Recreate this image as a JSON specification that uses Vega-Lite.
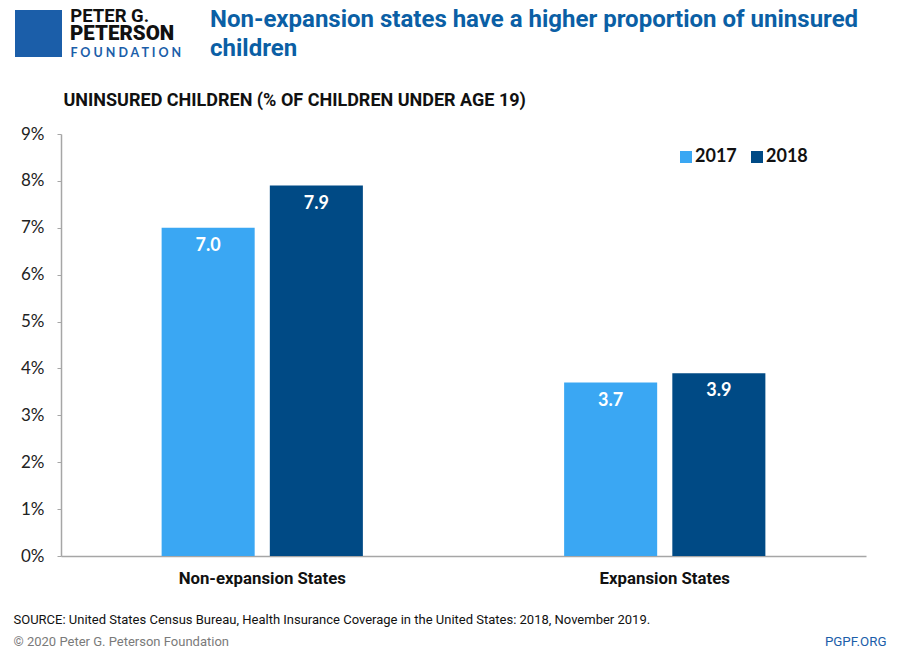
{
  "$schema": "https://vega.github.io/schema/vega-lite/v6.json",
  "autosize": "none",
  "width": 805,
  "height": 422,
  "padding": {"left": 61, "top": 134, "right": 34, "bottom": 96},
  "background": "white",
  "config": {"view": {"stroke": null}, "font": "Roboto"},
  "title": {
    "text": ["Non-expansion states have a higher proportion of uninsured", "children"],
    "anchor": "start",
    "frame": "group",
    "dx": 149,
    "offset": 0,
    "dy": 55,
    "font": "Roboto",
    "fontSize": 24,
    "fontWeight": "bold",
    "color": "#0b5fa5",
    "lineHeight": 29
  },
  "data": {
    "values": [
      {"group": "Non-expansion States", "year": "2017", "value": 7.0},
      {"group": "Non-expansion States", "year": "2018", "value": 7.9},
      {"group": "Expansion States", "year": "2017", "value": 3.7},
      {"group": "Expansion States", "year": "2018", "value": 3.9}
    ]
  },
  "resolve": {"axis": {"x": "independent", "y": "independent"}},
  "layer": [
    {
      "mark": {"type": "bar"},
      "encoding": {
        "x": {
          "field": "group", "type": "nominal",
          "sort": ["Non-expansion States", "Expansion States"],
          "scale": {"domain": ["Non-expansion States", "Expansion States"], "paddingInner": 0.5, "paddingOuter": 0.25},
          "axis": {
            "orient": "bottom",
            "labelAngle": 0,
            "labelFont": "Roboto",
            "labelFontSize": 16.8,
            "labelFontWeight": "bold",
            "labelColor": "#111111",
            "labelPadding": 14,
            "ticks": false,
            "domainColor": "#a6a6a6",
            "domainWidth": 1.5,
            "title": "SOURCE: United States Census Bureau, Health Insurance Coverage in the United States: 2018, November 2019.",
            "titleX": -48,
            "titleY": 63,
            "titleAlign": "left",
            "titleBaseline": "middle",
            "titleFont": "Roboto",
            "titleFontSize": 13,
            "titleFontWeight": "normal",
            "titleColor": "#111111"
          }
        },
        "xOffset": {"field": "year", "type": "nominal", "scale": {"paddingInner": 0.14}},
        "y": {
          "field": "value", "type": "quantitative",
          "scale": {"domain": [0, 9], "nice": false},
          "axis": {
            "orient": "left",
            "values": [0, 1, 2, 3, 4, 5, 6, 7, 8, 9],
            "labelExpr": "datum.value + '%'",
            "labelFont": "Lato",
            "labelFontSize": 17,
            "labelColor": "#222222",
            "labelPadding": 13,
            "tickSize": 4,
            "tickColor": "#a6a6a6",
            "domainColor": "#a6a6a6",
            "domainWidth": 1.5,
            "grid": false,
            "title": "UNINSURED CHILDREN (% OF CHILDREN UNDER AGE 19)",
            "titleAngle": 0,
            "titleX": 2,
            "titleY": -34,
            "titleAlign": "left",
            "titleBaseline": "middle",
            "titleFont": "Roboto",
            "titleFontSize": 18,
            "titleFontWeight": "bold",
            "titleColor": "#111111"
          }
        },
        "color": {
          "field": "year", "type": "nominal",
          "scale": {"domain": ["2017", "2018"], "range": ["#3aa7f3", "#004a85"]},
          "legend": {
            "orient": "none",
            "legendX": 616,
            "legendY": 14,
            "direction": "horizontal",
            "title": null,
            "symbolType": "square",
            "symbolSize": 144,
            "symbolStrokeWidth": 0,
            "labelFont": "Lato",
            "labelFontSize": 18,
            "labelFontWeight": "bold",
            "labelColor": "#111111",
            "labelOffset": 0,
            "columnPadding": 11,
            "padding": 0
          }
        }
      }
    },
    {
      "mark": {"type": "text", "baseline": "top", "dy": 9, "color": "white", "font": "Lato", "fontSize": 18, "fontWeight": "bold"},
      "encoding": {
        "x": {
          "field": "group", "type": "nominal",
          "sort": ["Non-expansion States", "Expansion States"],
          "scale": {"domain": ["Non-expansion States", "Expansion States"], "paddingInner": 0.5, "paddingOuter": 0.25},
          "axis": {
            "orient": "top",
            "labelExpr": "datum.value == 'Non-expansion States' ? 'PETER G.' : ''",
            "labelAngle": 0,
            "labelAlign": "left",
            "labelOffset": -192,
            "labelPadding": 109,
            "labelBound": false,
            "labelOverlap": false,
            "labelFont": "Roboto",
            "labelFontSize": 18.5,
            "labelFontWeight": "bold",
            "labelColor": "#111111",
            "ticks": false,
            "domain": false,
            "title": "F O U N D A T I O N",
            "titleX": 9,
            "titleY": -82,
            "titleAlign": "left",
            "titleBaseline": "middle",
            "titleFont": "Lato",
            "titleFontSize": 12.5,
            "titleFontWeight": "bold",
            "titleColor": "#1b5ea9"
          }
        },
        "xOffset": {"field": "year", "type": "nominal", "scale": {"paddingInner": 0.14}},
        "y": {
          "field": "value", "type": "quantitative",
          "scale": {"domain": [0, 9], "nice": false},
          "axis": {
            "orient": "right",
            "values": [0],
            "labelExpr": "'PGPF.ORG'",
            "labelOffset": 85,
            "labelAlign": "right",
            "labelBaseline": "middle",
            "labelPadding": 20,
            "labelBound": false,
            "labelFont": "Roboto",
            "labelFontSize": 13.3,
            "labelColor": "#1b5ea9",
            "ticks": false,
            "domain": false,
            "grid": false,
            "title": "© 2020 Peter G. Peterson Foundation",
            "titleAngle": 0,
            "titleX": -853,
            "titleY": 507,
            "titleAlign": "left",
            "titleBaseline": "middle",
            "titleFont": "Roboto",
            "titleFontSize": 13,
            "titleFontWeight": "normal",
            "titleColor": "#7a7a7a"
          }
        },
        "text": {"field": "value", "type": "quantitative", "format": ".1f"}
      }
    },
    {
      "transform": [{"filter": "false"}],
      "mark": {"type": "point", "filled": true, "color": "#1b5ea9", "opacity": 1},
      "encoding": {
        "shape": {
          "field": "brand", "type": "nominal",
          "scale": {"domain": ["PETERSON"], "range": ["square"]},
          "legend": {
            "orient": "none",
            "legendX": -46,
            "legendY": -124,
            "title": null,
            "padding": 0,
            "symbolSize": 2209,
            "symbolFillColor": "#1b5ea9",
            "symbolStrokeWidth": 0,
            "symbolOpacity": 1,
            "labelFont": "Roboto",
            "labelFontSize": 20.5,
            "labelFontWeight": 900,
            "labelColor": "#111111",
            "labelOffset": 8,
            "encode": {"labels": {"update": {"dy": {"value": 3}}}}
          }
        }
      }
    }
  ]
}
